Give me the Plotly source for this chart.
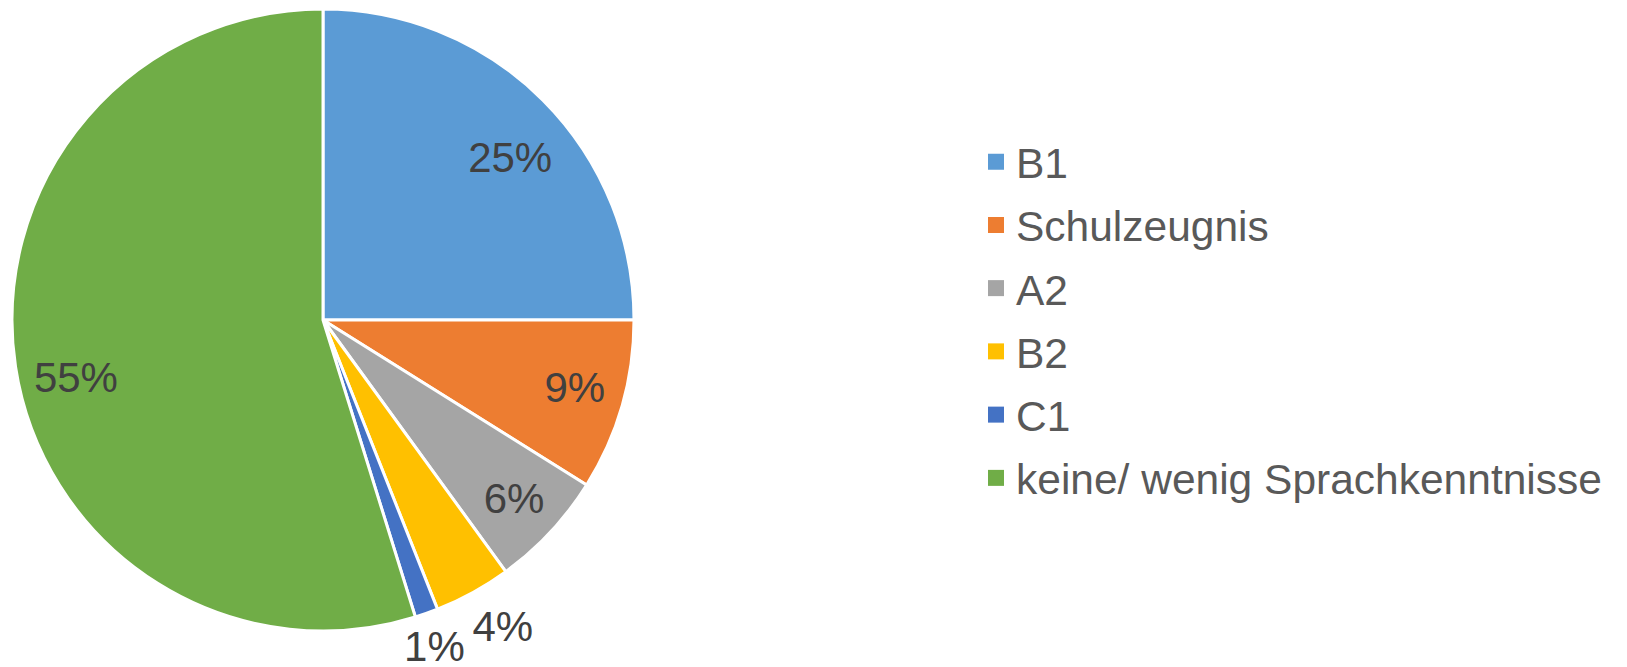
import plotly.graph_objects as go

categories = ["B1", "Schulzeugnis", "A2", "B2", "C1", "keine/ wenig Sprachkenntnisse"]
shares = [25.0, 8.9, 6.1, 4.0, 1.2, 54.8]
colors = ["#5B9BD5", "#ED7D31", "#A5A5A5", "#FFC000", "#4472C4", "#70AD47"]
text_positions = ["inside", "inside", "inside", "inside", "inside", "inside"]

W, H = 1627, 667
FONT = "Liberation Sans, Arial, sans-serif"
NB = "\u00a0"


def pad_line(size):
    return "<span style='font-size:%dpx'>%s</span>" % (size, NB)


# per-slice label templates (non-breaking spaces / blank lines nudge labels toward Excel's placement)
label_templates = [
    NB * 10 + "%{percent:.0%}<br>" + pad_line(100),
    NB * 3 + "%{percent:.0%}",
    "%{percent:.0%}",
    pad_line(125) + "<br>" + NB * 8 + "%{percent:.0%}",
    pad_line(80) + "<br>" + NB * 2 + "%{percent:.0%}",
    pad_line(56) + "<br>%{percent:.0%}" + NB * 16,
]

fig = go.Figure()
fig.add_trace(go.Pie(
    labels=categories,
    values=shares,
    sort=False,
    direction="clockwise",
    rotation=0,
    marker=dict(colors=colors, line=dict(color="white", width=3)),
    texttemplate=label_templates,
    textposition=text_positions,
    insidetextorientation="horizontal",
    textfont=dict(family=FONT, size=42, color="#404040"),
    showlegend=False,
    hoverinfo="label+percent",
    domain=dict(x=[12 / W, 634 / W], y=[(H - 631) / H, (H - 9) / H]),
))

for cat, col in zip(categories, colors):
    fig.add_trace(go.Scatter(
        x=[None], y=[None], mode="markers",
        marker=dict(symbol="square", size=16, color=col),
        name=cat, legendgroup=cat, showlegend=True,
    ))

fig.update_layout(
    width=W, height=H,
    margin=dict(l=0, r=0, t=0, b=0, autoexpand=False),
    paper_bgcolor="white",
    plot_bgcolor="white",
    uniformtext=dict(minsize=42, mode="show"),
    xaxis=dict(visible=False),
    yaxis=dict(visible=False),
    legend=dict(
        x=976 / W, y=(H - 320) / H, xanchor="left", yanchor="middle",
        font=dict(family=FONT, size=42.5, color="#595959"),
        tracegroupgap=5,
        itemsizing="trace",
        bgcolor="rgba(0,0,0,0)",
    ),
)

fig.write_html(
    "out.html",
    config={"displayModeBar": False},
    post_script=(
        "document.body.style.margin='0';"
        "document.querySelectorAll('path.textline').forEach(function(e){e.style.display='none';});"
    ),
)
